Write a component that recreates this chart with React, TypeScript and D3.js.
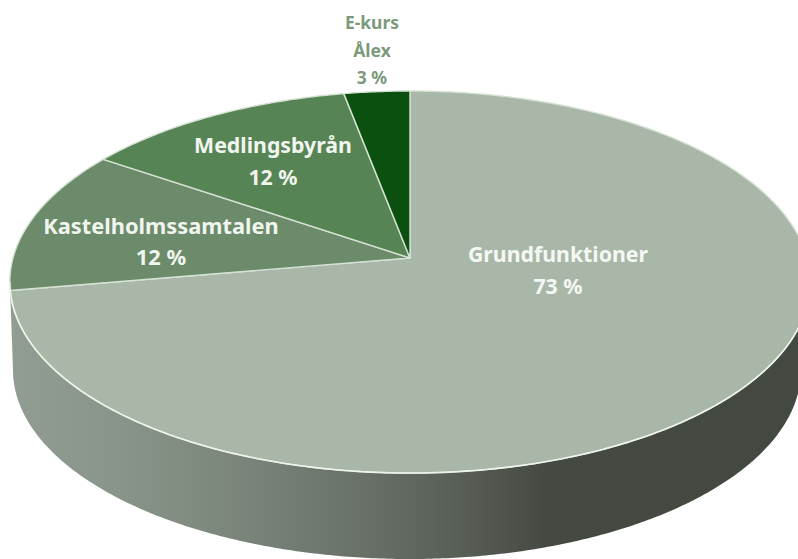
import * as d3 from "d3";

const segments = ["Grundfunktioner", "Kastelholmssamtalen", "Medlingsbyrån", "E-kurs Ålex"];
// read clockwise from twelve o'clock, E-kurs comes last so it ends at the top
const shares = [72.3, 12.2, 12.5, 3];
const shareLabels = ["73 %", "12 %", "12 %", "3 %"];
const segmentColors = ["#a9b7a9", "#6b8b6b", "#578454", "#0b500f"];

const width = 798;
const height = 559;

// perspective disc: apex of the slices is not the middle of the ellipse
const apex = { x: 410, y: 258 };
const radiusX = 397;
const radiusY = 188;
const tilt = 0.1257;
// underside of the cake, flatter on the right than on the left
const base = { x: 410, y: 370, left: 397, right: 391, ry: 189 };

function project(angle: number): [number, number] {
  const u = Math.sin(angle);
  const v = -Math.cos(angle);
  const w = 1 - tilt * v;
  return [apex.x + (radiusX * u) / w, apex.y + (radiusY * v) / w];
}

function sampleAngles(start: number, end: number) {
  const steps = Math.max(2, Math.ceil(Math.abs(end - start) / 0.01));
  return d3.range(steps + 1).map((i) => start + ((end - start) * i) / steps);
}

const line = d3.line<[number, number]>();

export default function App() {
  const arcs = d3.pie<number>().sort(null)(shares);

  const frontStart = Math.PI / 2 + Math.asin(tilt);
  const frontEnd = (3 * Math.PI) / 2 - Math.asin(tilt);
  const topRim = sampleAngles(frontStart, frontEnd).map((a) => project(a));
  // walk the underside from left to right so the wall outline closes
  const bottomRim = sampleAngles(-Math.PI / 2, Math.PI / 2).map((a): [number, number] => {
    const rx = a < 0 ? base.left : base.right;
    return [base.x + rx * Math.sin(a), base.y + base.ry * Math.cos(a)];
  });
  const wallPath = (line([...topRim, ...bottomRim]) ?? "") + "Z";

  const labelRows = [
    { lines: [segments[0], shareLabels[0]], x: 558, y: [262, 294], fill: "#f4f7f3", size: 21.3 },
    { lines: [segments[1], shareLabels[1]], x: 161, y: [234, 265], fill: "#f1f5ef", size: 21.8 },
    { lines: [segments[2], shareLabels[2]], x: 273, y: [153, 185], fill: "#f1f5ef", size: 21.3 },
    { lines: ["E-kurs", "Ålex", shareLabels[3]], x: 372, y: [29, 57, 84], fill: "#7b9a7b", size: 17.5 },
  ];

  return (
    <svg
      width={width}
      height={height}
      viewBox={`0 0 ${width} ${height}`}
      style={{ position: "absolute", left: 0, top: 0, background: "#fff" }}
      role="img"
      aria-label="Fördelning av kursdelar"
    >
      <defs>
        <linearGradient id="wall" gradientUnits="userSpaceOnUse" x1={10} x2={798} y1={0} y2={0}>
          <stop offset="0" stopColor="#919d92" />
          <stop offset="0.12" stopColor="#8a968b" />
          <stop offset="0.25" stopColor="#7f8a7f" />
          <stop offset="0.4" stopColor="#6e776e" />
          <stop offset="0.58" stopColor="#575d54" />
          <stop offset="0.68" stopColor="#444a42" />
          <stop offset="1" stopColor="#434840" />
        </linearGradient>
      </defs>
      <path d={wallPath} fill="url(#wall)" />
      {arcs.map((slice, i) => {
        const rim = sampleAngles(slice.startAngle, slice.endAngle).map((a) => project(a));
        const d = (line([[apex.x, apex.y], ...rim]) ?? "") + "Z";
        return <path key={segments[i]} d={d} fill={segmentColors[i]} stroke="#d5e2d3" strokeWidth={1.4} strokeLinejoin="round" />;
      })}
      <path d={line(topRim) ?? ""} fill="none" stroke="#eef3ec" strokeWidth={1.6} />
      {labelRows.map((row) =>
        row.lines.map((text, j) => (
          <text
            key={text + row.x}
            x={row.x}
            y={row.y[j]}
            textAnchor="middle"
            fontFamily="'Noto Sans', sans-serif"
            fontWeight={700}
            fontSize={row.size}
            fill={row.fill}
          >
            {text}
          </text>
        )),
      )}
    </svg>
  );
}
